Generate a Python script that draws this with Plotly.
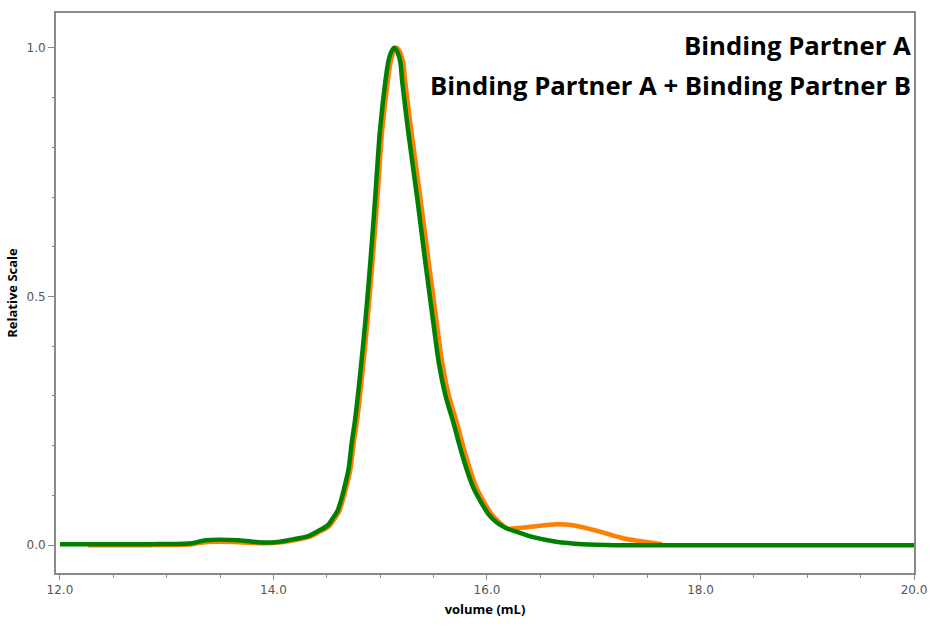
import plotly.graph_objects as go

# Data
green_x = [12.0, 12.836, 13.236, 13.366, 13.673, 13.859, 14.017, 14.138, 14.323, 14.416, 14.509,
           14.556, 14.602, 14.630, 14.662, 14.704, 14.732, 14.765, 14.807, 14.862, 14.909, 14.951,
           14.997, 15.048, 15.076, 15.104, 15.132, 15.160, 15.188, 15.206, 15.262, 15.350, 15.420,
           15.494, 15.550, 15.610, 15.690, 15.750, 15.810, 15.875, 15.950, 16.015, 16.089, 16.182,
           16.275, 16.433, 16.647, 16.898, 17.204, 18.0, 19.0, 20.0]
green_y = [0.002, 0.002, 0.004, 0.010, 0.010, 0.006, 0.006, 0.010, 0.018, 0.028, 0.040,
           0.054, 0.070, 0.088, 0.114, 0.154, 0.204, 0.253, 0.333, 0.453, 0.573, 0.693,
           0.832, 0.932, 0.972, 0.992, 1.000, 0.992, 0.972, 0.932, 0.832, 0.692, 0.573,
           0.453, 0.365, 0.302, 0.243, 0.195, 0.152, 0.114, 0.084, 0.062, 0.046, 0.034,
           0.027, 0.016, 0.007, 0.002, 0.000, 0.000, 0.000, 0.000]

orange_x = [12.26, 12.836, 13.236, 13.366, 13.673, 13.859, 14.017, 14.138, 14.330, 14.425, 14.520,
            14.570, 14.617, 14.646, 14.680, 14.722, 14.751, 14.785, 14.827, 14.882, 14.929, 14.972,
            15.018, 15.070, 15.098, 15.126, 15.154, 15.184, 15.214, 15.234, 15.292, 15.380, 15.452,
            15.526, 15.582, 15.642, 15.722, 15.782, 15.842, 15.905, 15.980, 16.045, 16.117, 16.182,
            16.368, 16.647, 16.805, 17.046, 17.270, 17.511, 17.641]
orange_y = [0.000, 0.000, 0.002, 0.006, 0.006, 0.004, 0.005, 0.008, 0.016, 0.026, 0.038,
            0.052, 0.068, 0.088, 0.114, 0.154, 0.204, 0.253, 0.333, 0.453, 0.573, 0.693,
            0.832, 0.932, 0.972, 0.992, 1.000, 0.992, 0.972, 0.932, 0.832, 0.692, 0.573,
            0.453, 0.365, 0.302, 0.243, 0.195, 0.152, 0.114, 0.084, 0.062, 0.046, 0.034,
            0.036, 0.042, 0.040, 0.028, 0.014, 0.006, 0.002]

legend_lines = ["Binding Partner A", "Binding Partner A + Binding Partner B"]
x_ticks = [12, 14, 16, 18, 20]
x_tick_labels = ["12.0", "14.0", "16.0", "18.0", "20.0"]
y_ticks = [0, 0.5, 1.0]
y_tick_labels = ["0.0", "0.5", "1.0"]

fig = go.Figure()
fig.add_trace(go.Scatter(x=orange_x, y=orange_y, mode="lines",
                         line=dict(color="rgb(255,128,0)", width=4.5, shape="spline", smoothing=0.8),
                         name=legend_lines[1], showlegend=False))
fig.add_trace(go.Scatter(x=green_x, y=green_y, mode="lines",
                         line=dict(color="rgb(0,128,0)", width=4.5, shape="spline", smoothing=0.8),
                         name=legend_lines[0], showlegend=False))

axis_gray = "#8a8a8a"
tick_font = dict(family="DejaVu Sans", size=12, color="#555555")
title_font = dict(family="Open Sans", size=13, color="#000000")

fig.update_xaxes(range=[11.963, 20.0], tickvals=x_ticks, ticktext=x_tick_labels,
                 showline=True, mirror=True, linecolor=axis_gray, linewidth=2,
                 ticks="outside", ticklen=5, tickcolor=axis_gray, tickwidth=1,
                 minor=dict(dtick=0.5, tick0=12, ticks="outside", ticklen=3, tickcolor=axis_gray),
                 showgrid=False, zeroline=False, tickfont=tick_font,
                 title=dict(text="<b>volume (mL)</b>", font=title_font, standoff=8))
fig.update_yaxes(range=[-0.056, 1.07], tickvals=y_ticks, ticktext=y_tick_labels,
                 showline=True, mirror=True, linecolor=axis_gray, linewidth=2,
                 ticks="outside", ticklen=6, tickcolor=axis_gray, tickwidth=1,
                 minor=dict(dtick=0.1, tick0=0, ticks="outside", ticklen=2, tickcolor=axis_gray),
                 showgrid=False, zeroline=False, tickfont=tick_font,
                 title=dict(text="<b>Relative Scale</b>", font=title_font, standoff=6))

for i, txt in enumerate(legend_lines):
    fig.add_annotation(text="<b>%s</b>" % txt, xref="paper", yref="paper",
                       x=0.999, y=[0.942, 0.870][i], xanchor="right", yanchor="middle",
                       showarrow=False, font=dict(family="Open Sans", size=25.7, color="#000000"))

fig.update_layout(width=938, height=626, margin=dict(l=56, r=17, t=11, b=50),
                  plot_bgcolor="white", paper_bgcolor="white")

fig.write_html("out.html")
